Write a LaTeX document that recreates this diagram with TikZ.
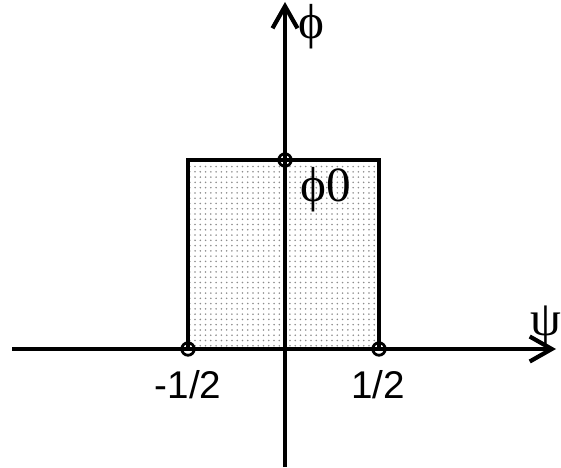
\documentclass[tikz,border=0pt]{standalone}
\usepackage{fontspec}
\setmainfont{Liberation Serif}
\setsansfont{Liberation Sans}
\usepackage{tikz}
\usetikzlibrary{arrows.meta,positioning,patterns}

\begin{document}
\begin{tikzpicture}[x=0.02cm,y=0.02cm,
  ax/.style={line width=2.2pt,-{Straight Barb[length=0.44cm,width=0.5cm,line width=2.4pt]}},
  pt/.style={circle,draw,line width=1.6pt,inner sep=0pt,minimum size=0.25cm},
  gl/.style={font=\fontsize{28}{28}\selectfont},
  nl/.style={font=\sffamily\fontsize{22}{22}\selectfont}]
  \useasboundingbox (0,0) rectangle (561,467);
  % axes
  \coordinate (xl) at (12,118);
  \coordinate (xr) at (556,118);
  \coordinate (yb) at (285,0);
  \coordinate (yt) at (285,465);
  % shaded box
  \fill[pattern=dots,pattern color=gray!90] (188,118) rectangle (379,307);
  \draw[line width=2.2pt] (188,118) -- (188,307) -- (379,307) -- (379,118);
  \draw[ax] (xl) -- (xr);
  \draw[ax] (yb) -- (yt);
  % marked points
  \node[pt] (m) at (188,118) {};
  \node[pt] (p) at (379,118) {};
  \node[pt] (t) at (285,307) {};
  % labels
  \node[gl] (phi) at (311,440) {ϕ};
  \node[gl] (psi) at (546,141) {ψ};
  \node[gl] (phi0) at (326,277) {ϕ0};
  \node[nl] (lm) at (188,82) {-1/2};
  \node[nl] (lp) at (378,82) {1/2};
\end{tikzpicture}
\end{document}
